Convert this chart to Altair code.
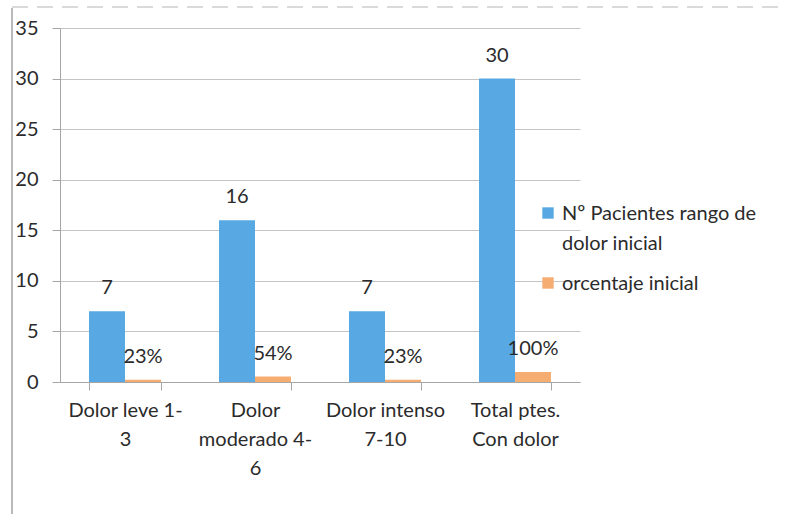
import altair as alt
import pandas as pd

# Categories and their wrapped axis labels
categories = ["Dolor leve 1-3", "Dolor moderado 4-6", "Dolor intenso 7-10", "Total ptes. Con dolor"]
category_lines = [["Dolor leve 1-", "3"], ["Dolor", "moderado 4-", "6"], ["Dolor intenso", "7-10"], ["Total ptes.", "Con dolor"]]

# Series
series_names = ["Nº Pacientes rango de dolor inicial", "orcentaje inicial"]
series_lines = [["Nº Pacientes rango de", "dolor inicial"], ["orcentaje inicial"]]
pacientes = [7, 16, 7, 30]
porcentaje = [0.23, 0.54, 0.23, 1.00]
porcentaje_labels = ["23%", "54%", "23%", "100%"]

colors = ["#58A9E3", "#F5AD72"]
FONT = "Lato"
TEXT = "#2b2b2b"
LABEL_DY = 7  # vertical nudge shared by all guide labels

rows = []
for i, c in enumerate(categories):
    rows.append({"cat": c, "serie": series_names[0], "valor": pacientes[i], "etiqueta": str(pacientes[i])})
    rows.append({"cat": c, "serie": series_names[1], "valor": porcentaje[i], "etiqueta": porcentaje_labels[i]})
df = pd.DataFrame(rows)


def lines_expr(names, lines):
    expr = "datum.label"
    for n, ls in reversed(list(zip(names, lines))):
        arr = "[" + ",".join("'" + s + "'" for s in ls) + "]"
        expr = f"datum.label == '{n}' ? {arr} : ({expr})"
    return expr


W, H = 520, 354

x = alt.X(
    "cat:N",
    sort=categories,
    title=None,
    scale=alt.Scale(paddingInner=0.446, paddingOuter=0.223),
    axis=alt.Axis(
        labelExpr=lines_expr(categories, category_lines),
        labelAngle=0,
        labelFont=FONT,
        labelFontSize=20,
        labelColor=TEXT,
        labelLineHeight=29,
        labelPadding=10 - LABEL_DY,
        labelBaseline="top",
        domainColor="#a6a6a6",
        tickColor="#a6a6a6",
        tickSize=8,
        tickBand="extent",
        grid=False,
    ),
)
y = alt.Y(
    "valor:Q",
    title=None,
    scale=alt.Scale(domain=[0, 35], nice=False),
    axis=alt.Axis(
        values=[0, 5, 10, 15, 20, 25, 30, 35],
        labelFont=FONT,
        labelFontSize=20,
        labelColor=TEXT,
        labelPadding=14,
        labelOffset=-LABEL_DY,
        domainColor="#a6a6a6",
        tickColor="#a6a6a6",
        tickSize=8,
        gridColor="#c4c4c4",
        gridWidth=1,
    ),
)
xoff = alt.XOffset("serie:N", sort=series_names)

bars = alt.Chart(df).mark_bar().encode(
    x=x,
    y=y,
    xOffset=xoff,
    color=alt.Color(
        "serie:N",
        sort=series_names,
        scale=alt.Scale(domain=series_names, range=colors),
        legend=alt.Legend(
            title=None,
            orient="none",
            legendX=478,
            legendY=175,
            symbolType="square",
            symbolSize=130,
            symbolStrokeWidth=0,
            labelFont=FONT,
            labelFontSize=20,
            labelColor=TEXT,
            labelLimit=300,
            labelBaseline="alphabetic",
            labelOffset=4,
            rowPadding=19,
            labelExpr=lines_expr(series_names, series_lines),
        ),
    ),
)

labels = alt.Chart(df).mark_text(
    font=FONT, fontSize=20, color=TEXT, baseline="middle", dy=-23
).encode(x=x, y=y, xOffset=xoff, text="etiqueta:N")

# Outer frame: solid left edge and dashed top edge
frame_left = alt.Chart().mark_rule(color="#8c8c8c", strokeWidth=1.2).encode(
    x=alt.value(-48), y=alt.value(-20), y2=alt.value(H + 140)
)
frame_top = alt.Chart().mark_rule(color="#b5b5b5", strokeWidth=1.2, strokeDash=[16, 9]).encode(
    x=alt.value(-48), x2=alt.value(W + 210), y=alt.value(-21)
)

chart = (
    alt.layer(bars, labels, frame_left, frame_top)
    .properties(
        width=W,
        height=H,
        autosize=alt.AutoSizeParams(type="none"),
        padding={"left": 60, "top": 28, "right": 205, "bottom": 132},
    )
    .configure(
        background="white",
        view=alt.ViewConfig(stroke=None),
        style={"guide-label": {"dy": LABEL_DY, "lineHeight": 30}},
    )
)

chart.save("out.html", embed_options={"renderer": "svg", "actions": False})
